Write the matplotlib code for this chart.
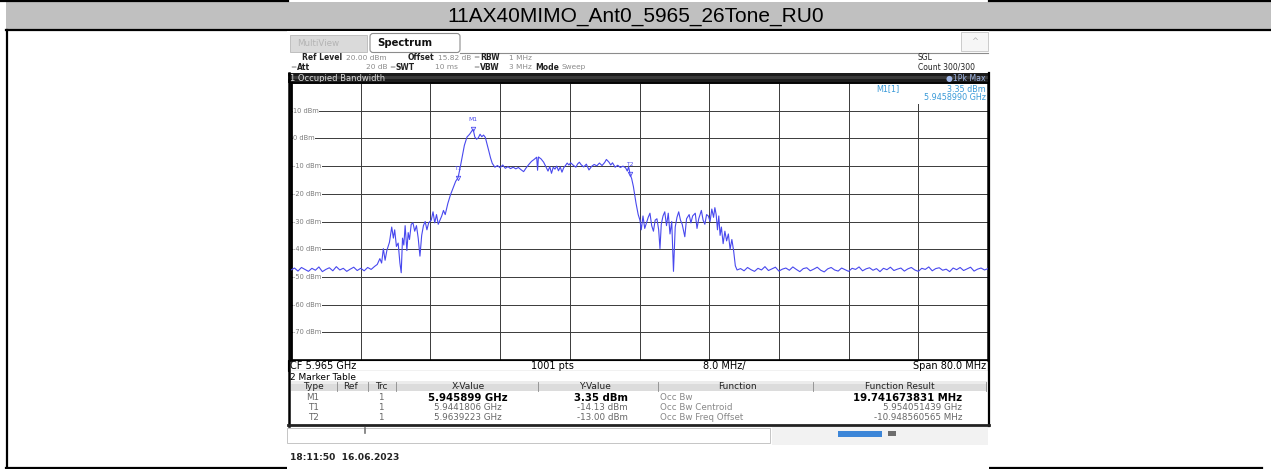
import matplotlib
matplotlib.use('Agg')
import matplotlib.pyplot as plt
from matplotlib.patches import Rectangle, FancyBboxPatch
import numpy as np

W, H = 1271, 469

title = '11AX40MIMO_Ant0_5965_26Tone_RU0'

# analyzer setup
start_ghz = 5.925
stop_ghz = 6.005
ref_level = 20
y_bottom = -80
grid_levels = [10, 0, -10, -20, -30, -40, -50, -60, -70]

# trace (MHz from start, dBm)
trace_mhz = [
    0.0, 0.4, 0.8, 1.2, 1.6, 2.0, 2.4, 2.8, 3.2, 3.6, 4.0, 4.4, 4.8, 5.2, 5.6,
    6.0, 6.4, 6.8, 7.2, 7.6, 8.0, 8.4, 8.8, 9.2, 9.6,
    9.9, 10.2, 10.4, 10.6, 10.8, 11.0, 11.3, 11.56, 11.75, 11.9, 12.1, 12.3,
    12.5, 12.65, 12.8, 12.95, 13.1, 13.3, 13.45, 13.6, 13.8, 14.0, 14.2, 14.4,
    14.6, 14.8, 15.0, 15.2, 15.4, 15.6, 15.8, 16.1, 16.3, 16.5, 16.7, 16.9,
    17.1, 17.3, 17.5, 17.7, 18.0, 18.3, 18.6, 18.9, 19.18, 19.4, 19.6, 19.9,
    20.2, 20.5, 20.7, 20.9, 21.1, 21.3, 21.5, 21.7, 21.9, 22.1, 22.3, 22.5,
    22.7, 22.9, 23.1, 23.4, 23.7, 24.0, 24.3, 24.6, 24.9, 25.2, 25.5, 25.8,
    26.1, 26.4, 26.7, 27.0, 27.3, 27.6, 27.9, 28.2, 28.3, 28.4, 28.7, 29.0,
    29.3, 29.5, 29.7, 29.9, 30.1, 30.3, 30.5, 30.7, 30.9, 31.1, 31.3, 31.5,
    31.7, 31.9, 32.1, 32.4, 32.7, 32.9, 33.1, 33.3, 33.6, 33.9, 34.2, 34.5,
    34.8, 35.1, 35.4, 35.7, 36.0, 36.2, 36.5, 36.7, 36.9, 37.2, 37.5, 37.8,
    38.1, 38.4, 38.6, 38.75, 38.92, 39.1, 39.3, 39.6, 39.85, 40.05, 40.2,
    40.4, 40.6, 40.8, 41.0, 41.2, 41.4, 41.6, 41.8, 42.0, 42.2, 42.35, 42.5,
    42.7, 42.9, 43.1, 43.3, 43.5, 43.7, 43.9, 44.1, 44.3, 44.5, 44.7, 44.9,
    45.2, 45.4, 45.7, 45.9, 46.1, 46.4, 46.6, 46.8, 47.1, 47.3, 47.5, 47.7,
    47.9, 48.1, 48.3, 48.5, 48.65, 48.8, 48.95, 49.1, 49.25, 49.4, 49.6, 49.8,
    50.0, 50.2, 50.4, 50.6, 50.8, 51.0, 51.2,
    51.6, 52.0, 52.4, 52.8, 53.2, 53.6, 54.0, 54.4, 54.8, 55.2, 55.6, 56.0,
    56.4, 56.8, 57.2, 57.6, 58.0, 58.4, 58.8, 59.2, 59.6, 60.0, 60.4, 60.8,
    61.2, 61.6, 62.0, 62.4, 62.8, 63.2, 63.6, 64.0, 64.4, 64.8, 65.2, 65.6,
    66.0, 66.4, 66.8, 67.2, 67.6, 68.0, 68.4, 68.8, 69.2, 69.6, 70.0, 70.4,
    70.8, 71.2, 71.6, 72.0, 72.4, 72.8, 73.2, 73.6, 74.0, 74.4, 74.8, 75.2,
    75.6, 76.0, 76.4, 76.8, 77.2, 77.6, 78.0, 78.4, 78.8, 79.2, 79.6, 80.0,
]
trace_dbm = [
    -47.5, -46.8, -47.9, -46.6, -47.3, -48.0, -46.9, -47.6, -46.4, -48.1,
    -47.3, -46.7, -47.8, -46.3, -47.5, -46.9, -48.0, -47.2, -46.5, -47.7,
    -46.9, -47.8, -46.6, -47.3, -46.2,
    -45.5, -43.4, -45.0, -39.8, -44.0, -40.5, -37.5, -32.0, -36.0, -33.0,
    -39.0, -37.8, -45.0, -48.5, -36.0, -38.5, -31.5, -40.5, -34.0, -36.5,
    -31.0, -30.5, -33.5, -31.5, -36.0, -42.5, -35.0, -31.5, -30.0, -33.0,
    -30.5, -29.5, -26.5, -30.5, -27.5, -31.0, -29.5, -28.0, -26.0, -27.5,
    -23.5, -20.4, -18.0, -15.5, -14.13, -10.8, -7.5, -2.5, 0.5, 1.5, 2.4,
    3.35, 0.5, -0.3, 0.2, 1.5, 0.6, 1.2, 0.4, -2.0, -4.5, -7.0, -9.0, -10.4,
    -9.8, -10.6, -9.6, -10.8, -10.2, -10.9, -10.4, -11.0, -10.5, -11.3,
    -12.0, -10.6, -9.4, -8.3, -7.6, -6.8, -11.5, -6.7, -7.4, -8.6, -10.5,
    -11.8, -10.2, -12.6, -10.4, -11.1, -10.0, -11.7, -10.3, -12.2, -10.6,
    -9.8, -8.9, -9.6, -8.8, -9.7, -10.4, -9.2, -8.6, -9.5, -10.3, -9.3,
    -11.4, -10.1, -9.4, -9.9, -8.9, -9.8, -8.7, -7.6, -8.6, -9.6, -8.8,
    -10.4, -9.7, -10.5, -10.0, -10.6, -11.8, -10.2, -13.0, -14.5, -17.4,
    -23.4, -27.5, -29.5, -33.0, -28.0, -32.5, -30.5, -28.5, -27.0, -31.5,
    -33.5, -29.5, -29.0, -33.0, -39.8, -31.0, -28.0, -26.5, -31.5, -27.0,
    -34.5, -30.0, -48.0, -32.0, -28.5, -26.5, -29.5, -31.0, -35.5, -29.0,
    -27.5, -30.5, -28.0, -27.0, -32.5, -29.0, -26.0, -29.5, -31.0, -27.5,
    -28.0, -30.0, -25.5, -28.5, -25.0, -27.5, -33.0, -28.0, -35.0, -32.0,
    -38.0, -33.5, -37.0, -34.5, -40.0, -36.5, -40.5, -46.0, -47.5,
    -47.0, -47.8, -46.6, -47.4, -48.0, -46.9, -47.5, -46.3, -47.7, -47.1,
    -46.5, -47.9, -47.2, -46.8, -47.6, -46.4, -47.3, -48.1, -47.0, -46.7,
    -47.8, -47.2, -46.5, -47.6, -48.2, -47.1, -46.6, -47.5, -47.9, -46.8,
    -47.4, -48.0, -46.9, -47.3, -46.4, -47.8, -47.1, -46.7, -47.6, -47.0,
    -48.1, -46.9, -47.4, -46.5, -47.7, -47.2, -46.8, -47.9, -47.1, -46.6,
    -47.5, -48.0, -46.9, -47.3, -46.4, -47.8, -47.0, -46.7, -47.6, -47.2,
    -48.1, -46.8, -47.4, -46.6, -47.7, -47.1, -46.5, -47.9, -47.2, -46.8,
    -47.5, -47.0,
]

# marker table
marker_names = ['M1', 'T1', 'T2']
marker_ghz = [5.945899, 5.9441806, 5.9639223]
marker_dbm = [3.35, -14.13, -13.00]
marker_x_text = ['5.945899 GHz', '5.9441806 GHz', '5.9639223 GHz']
marker_y_text = ['3.35 dBm', '-14.13 dBm', '-13.00 dBm']
functions = ['Occ Bw', 'Occ Bw Centroid', 'Occ Bw Freq Offset']
function_results = ['19.741673831 MHz', '5.954051439 GHz', '-10.948560565 MHz']

trace_col = '#4848ee'
font = 'DejaVu Sans'

fig = plt.figure(figsize=(W / 100, H / 100), dpi=100)
bg = fig.add_axes([0, 0, 1, 1])
bg.set_xlim(0, W)
bg.set_ylim(H, 0)
bg.axis('off')


def txt(x, y, s, size=6, **kw):
    kw.setdefault('va', 'center')
    kw.setdefault('family', font)
    bg.text(x, y, s, fontsize=size, **kw)


def box(x, y, w, h, **kw):
    bg.add_patch(Rectangle((x, y), w, h, **kw))


# document table frame + title row
box(6, 2, W - 6, 27, fc='#c0c0c0', ec='none')
bg.plot([0, 288], [1.2, 1.2], color='black', lw=1.6)
bg.plot([989, W], [1.2, 1.2], color='black', lw=1.6)
bg.plot([6, W], [30, 30], color='black', lw=1.6)
bg.plot([6.5, 6.5], [30, 468], color='black', lw=1.6)
bg.plot([6, 1262], [467.8, 467.8], color='black', lw=1.6)
txt(636, 16, title, size=15, ha='center', family='Liberation Sans')

# screenshot area
box(287, 31, 702, 438, fc='white', ec='none', zorder=2)

# tabs
box(290, 35, 77, 17, fc='#dadada', ec='#b8b8b8', lw=0.6, zorder=3)
txt(297, 43.5, 'MultiView', size=6.3, color='#b4b4b4', zorder=4)
bg.add_patch(FancyBboxPatch((370, 33.5), 90, 19, boxstyle='round,pad=0,rounding_size=3',
                            fc='white', ec='#8c8c8c', lw=0.8, zorder=3))
txt(377, 43, 'Spectrum', size=7.3, weight='bold', color='#111111', zorder=4)
bg.plot([460, 988], [52.8, 52.8], color='#8c8c8c', lw=0.8, zorder=3)
box(961, 32, 27, 19, fc='#f6f6f6', ec='#c4c4c4', lw=0.6, zorder=3)
txt(974.5, 42, '^', size=6, color='#b0b0b0', ha='center', zorder=4)

# header settings
hc = '#222222'
vc = '#8a8a8a'
ls, vs = 5.5, 5.3
y1, y2 = 57.5, 67
txt(302, y1, 'Ref Level', size=ls, weight='bold', color=hc, zorder=4)
txt(346, y1, '20.00 dBm', size=vs, color=vc, zorder=4)
txt(408, y1, 'Offset', size=ls, weight='bold', color=hc, zorder=4)
txt(438, y1, '15.82 dB', size=vs, color=vc, zorder=4)
txt(473, y1, '=', size=vs, color=vc, zorder=4)
txt(480, y1, 'RBW', size=ls, weight='bold', color=hc, zorder=4)
txt(509, y1, '1 MHz', size=vs, color=vc, zorder=4)
txt(290, y2, '=', size=vs, color=vc, zorder=4)
txt(297, y2, 'Att', size=ls, weight='bold', color=hc, zorder=4)
txt(387, y2, '20 dB', size=vs, color=vc, ha='right', zorder=4)
txt(389, y2, '=', size=vs, color=vc, zorder=4)
txt(396, y2, 'SWT', size=ls, weight='bold', color=hc, zorder=4)
txt(458, y2, '10 ms', size=vs, color=vc, ha='right', zorder=4)
txt(473, y2, '=', size=vs, color=vc, zorder=4)
txt(480, y2, 'VBW', size=ls, weight='bold', color=hc, zorder=4)
txt(509, y2, '3 MHz', size=vs, color=vc, zorder=4)
txt(535, y2, 'Mode', size=ls, weight='bold', color=hc, zorder=4)
txt(561, y2, 'Sweep', size=vs, color=vc, zorder=4)
txt(918, y1, 'SGL', size=ls, color=hc, zorder=4)
txt(918, y2, 'Count 300/300', size=ls, color=hc, zorder=4)

# window title bar
box(288, 73.5, 700, 10, fc='#1c1c1c', ec='none', zorder=3)
box(288, 76.5, 700, 3, fc='#3a3a3a', ec='none', zorder=3)
txt(290, 78.5, '1 Occupied Bandwidth', color='#dcdcdc', zorder=4)
txt(986, 78.5, '\u25cf1Pk Max', color='#9fb6e6', ha='right', size=5.6, zorder=4)

# spectrum diagram
ax = fig.add_axes([291 / W, 1 - 360 / H, 697 / W, 277 / H], zorder=5)
freq_ghz = start_ghz + np.array(trace_mhz) / 1000.0
ax.plot(freq_ghz, trace_dbm, color=trace_col, lw=0.8, zorder=4)
ax.set_xlim(start_ghz, stop_ghz)
ax.set_ylim(y_bottom, ref_level)
ax.set_xticks(np.linspace(start_ghz, stop_ghz, 11))
ax.set_yticks(np.arange(y_bottom, ref_level + 1, 10))
ax.tick_params(length=0, labelbottom=False, labelleft=False)
ax.grid(True, color='#3a3a3a', lw=0.7)
for s in ax.spines.values():
    s.set_color('black')
    s.set_linewidth(1.2)
ax.spines['left'].set_linewidth(2)
ax.spines['right'].set_linewidth(1.8)

for lv in grid_levels:
    ax.text(0.003, lv, f'{lv} dBm', transform=ax.get_yaxis_transform(),
            fontsize=4.8, color='#7a7a7a', va='center', family=font, zorder=3,
            bbox=dict(fc='white', ec='none', pad=0.4))

# marker readout corner
ax.add_patch(Rectangle((0.83, 0.925), 0.168, 0.073, transform=ax.transAxes,
                       fc='white', ec='none', zorder=3))
mc = '#3a9ad8'
ax.text(0.84, 0.978, f'{marker_names[0]}[1]', transform=ax.transAxes, fontsize=5.8,
        color=mc, va='center', family=font, zorder=4)
ax.text(0.997, 0.978, f'{marker_dbm[0]:.2f} dBm', transform=ax.transAxes, fontsize=5.8,
        color=mc, va='center', ha='right', family=font, zorder=4)
ax.text(0.997, 0.948, f'{marker_ghz[0]:.7f} GHz', transform=ax.transAxes, fontsize=5.8,
        color=mc, va='center', ha='right', family=font, zorder=4)

for name, fx, lv in zip(marker_names, marker_ghz, marker_dbm):
    ax.plot(fx, lv, 'v', ms=3.2, mfc='none', mec=trace_col, mew=0.6, zorder=5)
    ax.annotate(name, (fx, lv), xytext=(0, 5), textcoords='offset points',
                fontsize=4.3, color=trace_col, ha='center', va='bottom', family=font, zorder=5)

# bottom status row
box(288, 360, 700, 11, fc='white', ec='black', lw=0.8, zorder=3)
yr = 365.8
txt(290, yr, f'CF {(start_ghz + stop_ghz) / 2:.3f} GHz', size=7, zorder=4)
txt(552, yr, '1001 pts', size=7, ha='center', zorder=4)
txt(703, yr, f'{(stop_ghz - start_ghz) * 100:.1f} MHz/', size=7, zorder=4)
txt(986, yr, f'Span {(stop_ghz - start_ghz) * 1000:.1f} MHz', size=7, ha='right', zorder=4)

# marker table
box(289, 371, 699, 55, fc='white', ec='none', zorder=3)
txt(290, 377, '2 Marker Table', size=6.5, zorder=4)
box(291, 381.5, 696, 9.5, fc='#dcdcdc', ec='none', zorder=3)
box(291, 381.5, 696, 3, fc='#ececec', ec='none', zorder=3)
hy = 386.5
for x, s in [(313, 'Type'), (350, 'Ref'), (381, 'Trc'), (468, 'X-Value'),
             (595, 'Y-Value'), (737, 'Function'), (900, 'Function Result')]:
    txt(x, hy, s, size=6.5, ha='center', color='#222222', zorder=4)
for x in [337, 368, 396, 538, 658, 813, 986]:
    bg.plot([x, x], [382, 391], color='#8a8a8a', lw=0.6, zorder=4)

row_y = [398, 407.5, 417]
for i, ry in enumerate(row_y):
    strong = i == 0
    kw = dict(size=7.3, weight='bold', color='black') if strong else dict(size=6.3, color='#666666')
    txt(313, ry, marker_names[i], size=6.3, ha='center', color='#666666', zorder=4)
    txt(381, ry, '1', size=6.3, ha='center', color='#666666', zorder=4)
    txt(468, ry, marker_x_text[i], ha='center', zorder=4, **kw)
    txt(628, ry, marker_y_text[i], ha='right', zorder=4, **kw)
    txt(660, ry, functions[i], size=6.3, color='#888888', zorder=4)
    txt(962, ry, function_results[i], ha='right', zorder=4, **kw)

bg.plot([289, 289], [73.5, 426], color='black', lw=1.8, zorder=6)
bg.plot([988.5, 988.5], [73.5, 426], color='black', lw=1.6, zorder=6)
bg.plot([288, 989], [425.5, 425.5], color='#222222', lw=2, zorder=6)

# soft key / input row
box(287, 428, 483, 15, fc='white', ec='#bcbcbc', lw=0.6, zorder=3)
bg.plot([365, 365], [428, 433], color='#777777', lw=1.2, zorder=4)
box(772, 427, 216, 18, fc='#f2f2f2', ec='none', zorder=3)
box(838, 431, 44, 6, fc='#3d86d8', ec='none', zorder=4)
box(888, 431, 8, 5, fc='#6e6e6e', ec='none', zorder=4)

txt(290, 457, '18:11:50  16.06.2023', size=6.6, weight='bold', color='#222222', zorder=4)

fig.savefig('out.png', dpi=100)
